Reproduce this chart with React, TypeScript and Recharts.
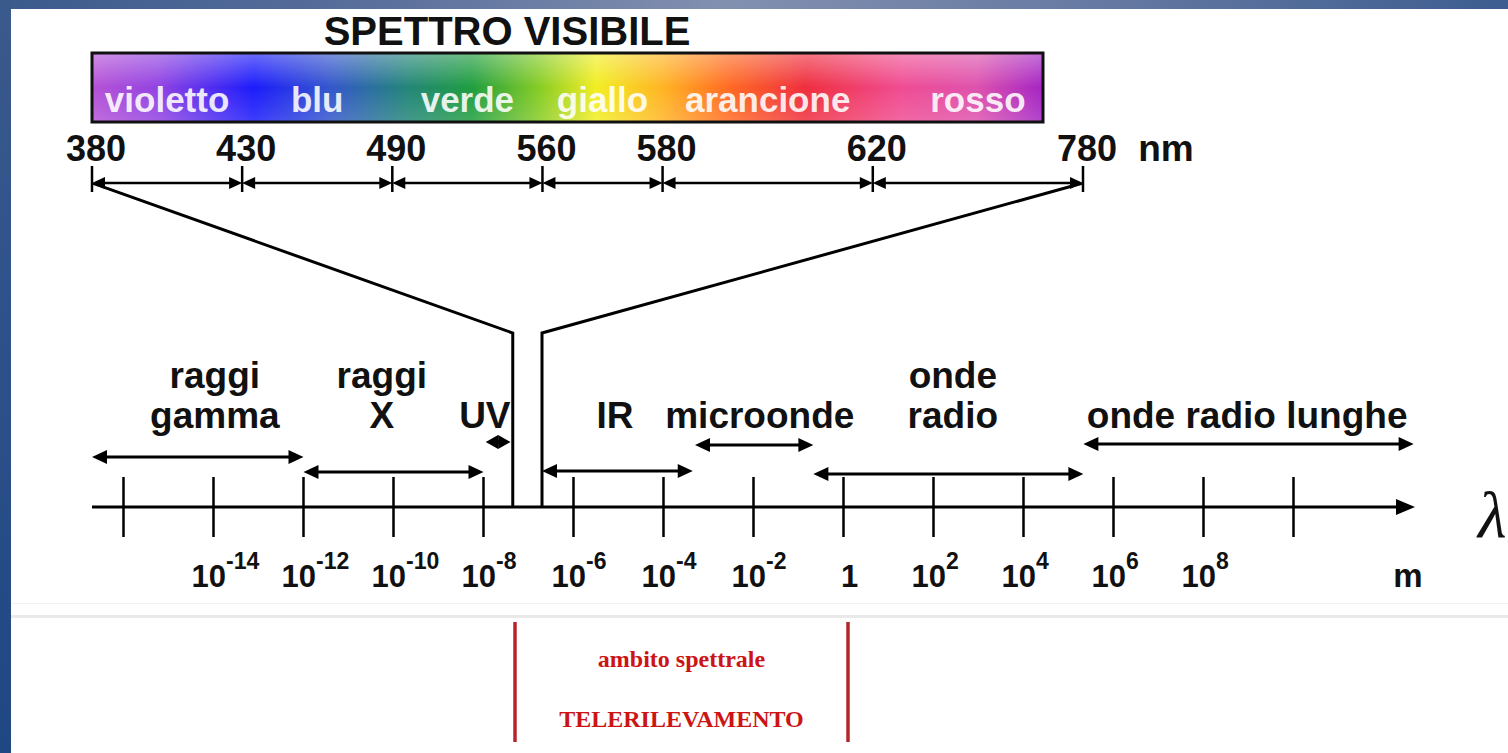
import React from 'react'
import { ComposedChart, XAxis, YAxis, Line, ReferenceLine, ReferenceDot, ReferenceArea } from 'recharts'

// spettro visibile (nm) e nomi delle bande
const visibleBounds = [380, 430, 490, 560, 580, 620, 780]
const visibleNames = ['violetto', 'blu', 'verde', 'giallo', 'arancione', 'rosso']
// larghezza con cui ogni banda e' disegnata nello schema (non in scala)
const visibleSpan = [5, 5, 5, 4, 7, 7]

// asse delle lunghezze d'onda: esponente di 10 in metri
const expTicks = [-16, -14, -12, -10, -8, -6, -4, -2, 0, 2, 4, 6, 8, 10]
const expLabelled = [-14, -12, -10, -8, -6, -4, -2, 0, 2, 4, 6, 8]

// regioni dello spettro elettromagnetico (esponenti)
const regionNames = [['raggi', 'gamma'], ['raggi', 'X'], ['UV'], ['IR'], ['microonde'], ['onde', 'radio'], ['onde radio lunghe']]
const regionFrom = [-16.7, -12, -7.95, -6.7, -3.3, -0.67, 5.33]
const regionTo = [-12, -8, -7.4, -3.35, -0.67, 5.33, 12.67]
const visibleWindow = [-7.35, -6.7]
const remoteSensing = [-7.3, 0.1]

// layout
const W = 1508
const H = 753
const PLOT_L = 92
const PLOT_R = 1415
const AXIS_TOP = 183
const AXIS_BOTTOM = 507
const PLOT_H = AXIS_BOTTOM - AXIS_TOP
const TOP_AXIS_H = 60
const BOTTOM_AXIS_H = 100
const M_DOMAIN: [number, number] = [-16.7, 12.7]
const NM_PX = 991 // distanza 380-780 nel disegno
const nmCum = visibleSpan.reduce<number[]>((acc, s) => [...acc, acc[acc.length - 1] + s], [0])
const nmTotal = nmCum[nmCum.length - 1]
const NM_DOMAIN: [number, number] = [0, (nmTotal * (PLOT_R - PLOT_L)) / NM_PX]
const BAR_END = (951 / NM_PX) * nmTotal
const regionRow = [50, 35, 65, 36, 62, 33, 63]
const labelAt = [-13.97, -10.26, -7.97, -5.08, -1.86, 2.43, 8.97]
const LABEL_ROW = 79
const FUNNEL_KNEE = 174

const SANS = '"Liberation Sans", Arial, Helvetica, sans-serif'
const SERIF = '"Liberation Serif", "Times New Roman", serif'

const spectrumStops: [number, string][] = [
  [0, '#b652d6'], [0.07, '#9142e2'], [0.17, '#1c1cfb'], [0.25, '#3456cc'],
  [0.33, '#23857a'], [0.4, '#1f9e3e'], [0.47, '#86cc25'], [0.53, '#f2ee22'],
  [0.6, '#ffb424'], [0.67, '#ff6a22'], [0.75, '#ef2e3e'], [0.85, '#f04c92'],
  [0.93, '#de52ad'], [1, '#a424c4'],
]

const nmToM = (v: number) =>
  M_DOMAIN[0] + ((v - NM_DOMAIN[0]) / (NM_DOMAIN[1] - NM_DOMAIN[0])) * (M_DOMAIN[1] - M_DOMAIN[0])

const axisRows = expTicks.map((e) => ({ e, u: 0 }))
const funnelLeft = [
  { e: visibleWindow[0], u: 0 },
  { e: visibleWindow[0], u: FUNNEL_KNEE },
  { e: nmToM(0), u: PLOT_H },
]
const funnelRight = [
  { e: visibleWindow[1], u: 0 },
  { e: visibleWindow[1], u: FUNNEL_KNEE },
  { e: nmToM(nmTotal), u: PLOT_H },
]

function ArrowShape({ x1 = 0, y1 = 0, x2 = 0, y2 = 0, both = true, len = 15, half = 6.5, width = 3 }: any) {
  const d = x2 >= x1 ? 1 : -1
  const l = both ? Math.min(len, Math.abs(x2 - x1) / 2) : len
  const head = (tx: number, ty: number, s: number) =>
    `${tx},${ty} ${tx - s * l},${ty - half} ${tx - s * l},${ty + half}`
  return (
    <g>
      <line x1={both ? x1 + d * l * 0.5 : x1} y1={y1} x2={x2 - d * l * 0.5} y2={y2} stroke="#000" strokeWidth={width} />
      <polygon points={head(x2, y2, d)} fill="#000" />
      {both && <polygon points={head(x1, y1, -d)} fill="#000" />}
    </g>
  )
}

function SpectrumBar({ x = 0, y = 0, width = 0, height = 0 }: any) {
  return (
    <g>
      <defs>
        <linearGradient id="spettro" x1="0" y1="0" x2="1" y2="0">
          {spectrumStops.map(([o, c]) => <stop key={o} offset={o} stopColor={c} />)}
        </linearGradient>
        <linearGradient id="lucido" x1="0" y1="0" x2="0" y2="1">
          <stop offset="0" stopColor="#fff" stopOpacity={0.35} />
          <stop offset="0.5" stopColor="#fff" stopOpacity={0} />
          <stop offset="1" stopColor="#fff" stopOpacity={0.15} />
        </linearGradient>
      </defs>
      <rect x={x} y={y} width={width} height={height} fill="url(#spettro)" />
      <rect x={x} y={y} width={width} height={height} fill="url(#lucido)" />
      <rect x={x} y={y} width={width} height={height} fill="none" stroke="#111" strokeWidth={3} />
    </g>
  )
}

function NmTick({ x, y, payload }: any) {
  const i = nmCum.indexOf(payload.value)
  return (
    <g>
      <line x1={x} y1={y - 17} x2={x} y2={y + 9} stroke="#000" strokeWidth={2.5} />
      <text x={x + 4} y={y - 22} textAnchor="middle" fontFamily={SANS} fontWeight="bold" fontSize={36} fill="#111">
        {visibleBounds[i]}
      </text>
    </g>
  )
}

function ExpTick({ x, y, payload }: any) {
  const e = payload.value
  const show = expLabelled.includes(e)
  return (
    <g>
      <line x1={x} y1={y - 30} x2={x} y2={y + 30} stroke="#000" strokeWidth={2.5} />
      {show && e === 0 && (
        <text x={x + 6} y={y + 80} textAnchor="middle" fontFamily={SANS} fontWeight="bold" fontSize={31} fill="#111">1</text>
      )}
      {show && e !== 0 && (
        <text x={x - 22} y={y + 80} fontFamily={SANS} fontWeight="bold" fontSize={31} fill="#111">
          10<tspan dy={-18} fontSize={23}>{e}</tspan>
        </text>
      )}
    </g>
  )
}

const textAt = (lines: string[], opts: any) => (p: any) => (
  <text x={p.cx} y={p.cy} textAnchor={opts.anchor ?? 'middle'} fontFamily={opts.font ?? SANS}
    fontWeight={opts.weight ?? 'bold'} fontStyle={opts.style} fontSize={opts.size} fill={opts.fill ?? '#111'}
    fillOpacity={opts.opacity ?? 1}>
    {lines.map((l, k) => (
      <tspan key={k} x={p.cx} dy={k === 0 ? -(lines.length - 1) * opts.lead : opts.lead}>{l}</tspan>
    ))}
  </text>
)

export default function App() {
  return (
    <div style={{ position: 'absolute', left: 0, top: 0, width: W, height: H, background: '#fff', overflow: 'hidden' }}>
      <div style={{ position: 'absolute', left: 0, top: 0, width: W, height: 9, background: 'linear-gradient(90deg, #3a5a8c 0%, #5a6f9c 25%, #8290b0 48%, #6a7ca4 70%, #3d5d90 100%)' }} />
      <div style={{ position: 'absolute', left: 0, top: 0, width: 11, height: H, background: 'linear-gradient(180deg, #3b5a8c 0%, #2c508a 50%, #1f4782 100%)' }} />
      <div style={{ position: 'absolute', left: 11, top: 603, width: W, height: 1, background: '#f3f3f3' }} />
      <div style={{ position: 'absolute', left: 11, top: 615, width: W, height: 3, background: '#e9e9e9' }} />
      <div style={{ position: 'absolute', left: 0, top: 0, width: W, height: H }}>
        <ComposedChart
          width={W}
          height={H}
          data={axisRows}
          margin={{ top: AXIS_TOP - TOP_AXIS_H, right: W - PLOT_R, bottom: H - AXIS_BOTTOM - BOTTOM_AXIS_H, left: PLOT_L }}
        >
          <XAxis xAxisId="m" dataKey="e" type="number" orientation="bottom" domain={M_DOMAIN} allowDataOverflow
            ticks={expTicks} interval={0} height={BOTTOM_AXIS_H} axisLine={false} tickLine={false}
            tickSize={0} tickMargin={0} tick={<ExpTick />} />
          <XAxis xAxisId="nm" dataKey="nm" type="number" orientation="top" domain={NM_DOMAIN} allowDataOverflow
            ticks={nmCum} interval={0} height={TOP_AXIS_H} axisLine={false} tickLine={false}
            tickSize={0} tickMargin={0} tick={<NmTick />} />
          <YAxis dataKey="u" type="number" domain={[0, PLOT_H]} allowDataOverflow hide />

          {/* imbuto verso il visibile */}
          <Line xAxisId="m" data={funnelLeft} dataKey="u" type="linear" stroke="#000" strokeWidth={3}
            dot={false} activeDot={false} isAnimationActive={false} />
          <Line xAxisId="m" data={funnelRight} dataKey="u" type="linear" stroke="#000" strokeWidth={3}
            dot={false} activeDot={false} isAnimationActive={false} />

          {/* barra dei colori e titolo */}
          <ReferenceArea xAxisId="nm" x1={0} x2={BAR_END} y1={385} y2={454} ifOverflow="visible" shape={<SpectrumBar />} />
          {visibleNames.map((n, i) => (
            <ReferenceDot key={n} xAxisId="nm" x={(nmCum[i] + nmCum[i + 1]) / 2} y={395} ifOverflow="visible"
              shape={textAt([n], { size: 35, fill: '#fff', opacity: 0.88, lead: 0 })} />
          ))}
          <ReferenceDot xAxisId="nm" x={13.82} y={462} ifOverflow="visible"
            shape={textAt(['SPETTRO VISIBILE'], { size: 40, lead: 0 })} />
          <ReferenceDot xAxisId="nm" x={35.76} y={346} ifOverflow="visible"
            shape={textAt(['nm'], { size: 37, lead: 0 })} />

          {/* quote del visibile */}
          {visibleSpan.map((_, i) => (
            <ReferenceLine key={`q${i}`} xAxisId="nm" ifOverflow="visible"
              segment={[{ x: nmCum[i], y: PLOT_H }, { x: nmCum[i + 1], y: PLOT_H }]}
              shape={(p: any) => <ArrowShape {...p} len={13} half={6} width={2.5} />} />
          ))}

          {/* asse lambda */}
          <ReferenceLine xAxisId="m" ifOverflow="visible"
            segment={[{ x: M_DOMAIN[0], y: 0 }, { x: M_DOMAIN[1], y: 0 }]}
            shape={(p: any) => <ArrowShape {...p} both={false} len={19} half={8} width={3} />} />

          {/* regioni */}
          {regionNames.map((n, i) => (
            <ReferenceLine key={`r${i}`} xAxisId="m" ifOverflow="visible"
              segment={[{ x: regionFrom[i], y: regionRow[i] }, { x: regionTo[i], y: regionRow[i] }]}
              shape={(p: any) => <ArrowShape {...p} len={15} half={7} width={3} />} />
          ))}
          {regionNames.map((n, i) => (
            <ReferenceDot key={`l${i}`} xAxisId="m" x={labelAt[i]} y={LABEL_ROW} ifOverflow="visible"
              shape={textAt(n, { size: 37, lead: 40 })} />
          ))}

          <ReferenceDot xAxisId="m" x={12.54} y={-80} ifOverflow="visible" shape={textAt(['m'], { size: 33, lead: 0 })} />
          <ReferenceDot xAxisId="m" x={14.1} y={-30} ifOverflow="visible"
            shape={textAt(['λ'], { size: 66, font: SERIF, weight: 'normal', style: 'italic', anchor: 'start', lead: 0 })} />

          {/* ambito del telerilevamento */}
          {remoteSensing.map((v, i) => (
            <ReferenceLine key={`t${i}`} xAxisId="m" ifOverflow="visible" stroke="#b5262c" strokeWidth={3.5}
              segment={[{ x: v, y: -115 }, { x: v, y: -235 }]} />
          ))}
          <ReferenceDot xAxisId="m" x={(remoteSensing[0] + remoteSensing[1]) / 2} y={-160} ifOverflow="visible"
            shape={textAt(['ambito spettrale'], { size: 24, font: SERIF, fill: '#cc1414', lead: 0 })} />
          <ReferenceDot xAxisId="m" x={(remoteSensing[0] + remoteSensing[1]) / 2} y={-220} ifOverflow="visible"
            shape={textAt(['TELERILEVAMENTO'], { size: 24, font: SERIF, fill: '#cc1414', lead: 0 })} />
        </ComposedChart>
      </div>
    </div>
  )
}
